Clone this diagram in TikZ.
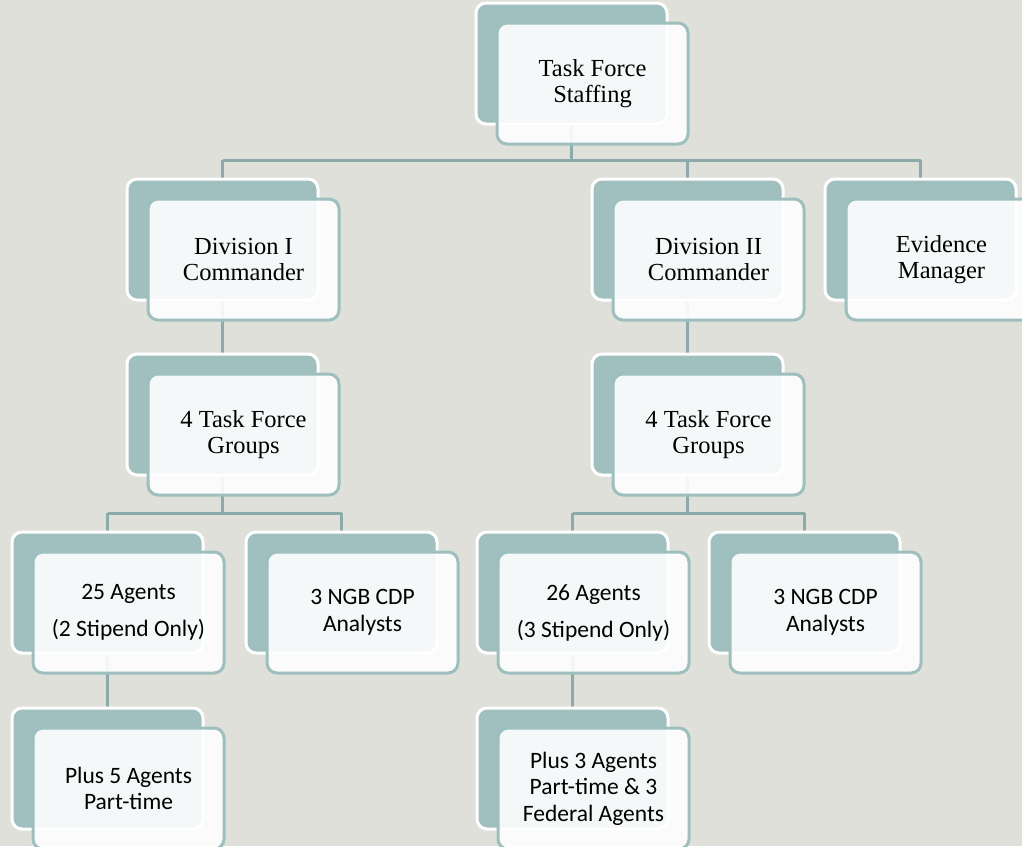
\documentclass[tikz,border=0pt]{standalone}
\usepackage{fontspec}
\setmainfont{Liberation Serif}
\newfontfamily\calib{Carlito}
\definecolor{bgc}{HTML}{E0E0DA}
\definecolor{backc}{HTML}{A0C0BF}
\definecolor{edgec}{HTML}{9DBFBE}
\definecolor{linec}{HTML}{8AABAA}
\tikzset{
  backbox/.style={rectangle, rounded corners=10pt, fill=backc, draw=white, line width=3pt,
    minimum width=191pt, minimum height=121pt, inner sep=0pt},
  frontbox/.style={rectangle, rounded corners=10pt, fill=white, fill opacity=0.9, text opacity=1,
    draw=edgec, draw opacity=1, line width=3pt, minimum width=191pt, minimum height=121pt,
    inner sep=0pt, align=center},
  serifbox/.style={frontbox, font=\fontsize{24.5}{26}\selectfont},
  sansbox/.style={frontbox, font=\calib\fontsize{23.5}{26.5}\selectfont},
  conn/.style={draw=linec, line width=3pt}
}
\newcommand{\orgpair}[5]{%
  \node[backbox] (#1) at (#2,#3) {};
  \node[#4] (#1f) at ([xshift=21pt,yshift=-20pt]#1.center) {#5};
}
\begin{document}
\begin{tikzpicture}[x=1pt,y=-1pt]
\fill[bgc] (0,0) rectangle (1022,846);
\useasboundingbox (0,0) rectangle (1022,846);
% connectors (drawn first, boxes on top)
\coordinate (b1) at (571.5,160);
\draw[conn] (571.5,63.5) -- (b1);
\draw[conn] (222.5,160) -- (920.5,160);
\draw[conn] (222.5,160) -- (222.5,513);
\draw[conn] (687.5,160) -- (687.5,513);
\draw[conn] (920.5,160) -- (920.5,239.5);
\draw[conn] (107.5,513) -- (341.5,513);
\draw[conn] (572.5,513) -- (804.5,513);
\draw[conn] (107.5,513) -- (107.5,768.5);
\draw[conn] (341.5,513) -- (341.5,592.5);
\draw[conn] (572.5,513) -- (572.5,768.5);
\draw[conn] (804.5,513) -- (804.5,592.5);
% boxes
\orgpair{top}{571.5}{63.5}{serifbox}{Task Force\\Staffing}
\orgpair{d1}{222.5}{239.5}{serifbox}{Division I\\Commander}
\orgpair{d2}{687.5}{239.5}{serifbox}{Division II\\Commander}
\orgpair{ev}{920.5}{239.5}{serifbox}{Evidence\\Manager}
\orgpair{g1}{222.5}{414.5}{serifbox}{4 Task Force\\Groups}
\orgpair{g2}{687.5}{414.5}{serifbox}{4 Task Force\\Groups}
\orgpair{a1}{107.5}{592.5}{sansbox}{25 Agents\\[10.5pt](2 Stipend Only)}
\orgpair{n1}{341.5}{592.5}{sansbox}{3 NGB CDP\\Analysts}
\orgpair{a2}{572.5}{592.5}{sansbox}{26 Agents\\[10.5pt](3 Stipend Only)}
\orgpair{n2}{804.5}{592.5}{sansbox}{3 NGB CDP\\Analysts}
\orgpair{p1}{107.5}{768.5}{sansbox}{Plus 5 Agents\\Part-time}
\orgpair{p2}{572.5}{768.5}{sansbox}{Plus 3 Agents\\Part-time \& 3\\Federal Agents}
\end{tikzpicture}
\end{document}
